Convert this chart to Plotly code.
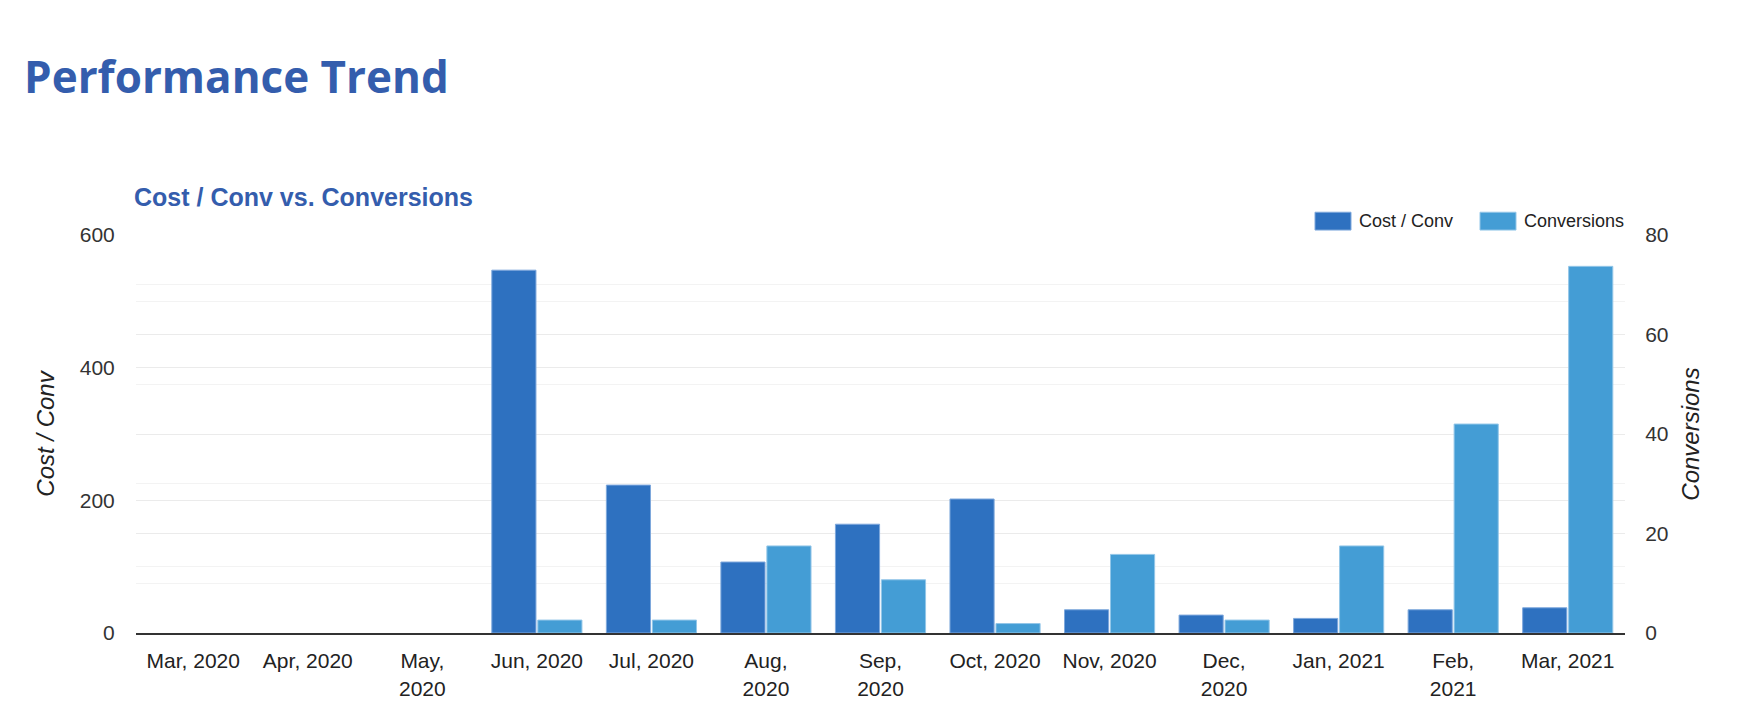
import plotly.graph_objects as go

months = ['Mar, 2020', 'Apr, 2020', 'May,<br>2020', 'Jun, 2020', 'Jul, 2020',
          'Aug,<br>2020', 'Sep,<br>2020', 'Oct, 2020', 'Nov, 2020',
          'Dec,<br>2020', 'Jan, 2021', 'Feb,<br>2021', 'Mar, 2021']
cost_per_conv = [None, None, None, 547, 223, 107, 164, 202, 35, 27, 22, 35, 38]
conversions = [None, None, None, 2.6, 2.6, 17.5, 10.7, 1.9, 15.8, 2.6, 17.5, 42, 73.7]

DARK = '#2e71c0'
LIGHT = '#449dd5'
TITLE_BLUE = '#345dad'
FONT = 'Arial, Liberation Sans, sans-serif'

# plot area in pixels (margins below)
L, R, T, B = 128, 129, 227, 75
W, H = 1746, 704
PW, PH = W - L - R, H - T - B


def px_x(px):
    return (px - L) / PW


def px_y(py):
    return (H - B - py) / PH


fig = go.Figure()
fig.add_trace(go.Bar(x=months, y=cost_per_conv, name='Cost / Conv',
                     marker=dict(color=DARK, line=dict(color='#7ea8dc', width=1)),
                     offsetgroup='a', yaxis='y'))
fig.add_trace(go.Bar(x=months, y=conversions, name='Conversions',
                     marker=dict(color=LIGHT, line=dict(color='#93c6e8', width=1)),
                     offsetgroup='b', yaxis='y2'))

# legend drawn by hand so the swatches are wide rectangles like the original
legend_items = [('Cost / Conv', DARK, '#7ea8dc', 1307), ('Conversions', LIGHT, '#93c6e8', 1472)]
shapes = []
annotations = []
for label, col, edge, x0 in legend_items:
    shapes.append(dict(type='rect', xref='paper', yref='paper',
                       x0=px_x(x0), x1=px_x(x0 + 36), y0=px_y(222), y1=px_y(204),
                       fillcolor=col, line=dict(color=edge, width=1)))
    annotations.append(dict(text=label, xref='paper', yref='paper',
                            x=px_x(x0 + 42), y=px_y(213), xanchor='left', yanchor='middle',
                            showarrow=False, font=dict(family=FONT, size=18, color='#222222')))

annotations += [
    dict(text='<b>Performance Trend</b>', xref='paper', yref='paper',
         x=px_x(14), y=px_y(66), xanchor='left', yanchor='middle',
         showarrow=False, font=dict(family='Open Sans', size=44, color=TITLE_BLUE)),
    dict(text='<b>Cost / Conv vs. Conversions</b>', xref='paper', yref='paper',
         x=px_x(124), y=px_y(189), xanchor='left', yanchor='middle',
         showarrow=False, font=dict(family=FONT, size=25, color=TITLE_BLUE)),
]

fig.update_layout(
    width=W, height=H,
    margin=dict(l=L, r=R, t=T, b=B),
    plot_bgcolor='#FFFFFF',
    paper_bgcolor='#FFFFFF',
    font=dict(family=FONT, size=21, color='#333333'),
    barmode='group',
    bargap=0.197,
    bargroupgap=0.04,
    showlegend=False,
    xaxis=dict(showgrid=False, showline=True, linecolor='#333333', linewidth=2,
               tickfont=dict(size=21, color='#222222'), ticks='outside',
               ticklen=8, tickcolor='rgba(0,0,0,0)', fixedrange=True),
    yaxis=dict(range=[0, 600], dtick=200, showgrid=True, gridcolor='#ebebeb', gridwidth=1,
               minor=dict(dtick=100, showgrid=True, gridcolor='#f3f3f3', gridwidth=1),
               zeroline=False, ticks='outside', ticklen=16, tickcolor='rgba(0,0,0,0)',
               tickfont=dict(size=21, color='#333333'),
               title=dict(text='<i>Cost / Conv</i>', font=dict(size=24, color='#222222'),
                          standoff=18)),
    yaxis2=dict(range=[0, 80], dtick=20, overlaying='y', side='right',
                showgrid=True, gridcolor='#ebebeb', gridwidth=1,
                minor=dict(dtick=10, showgrid=True, gridcolor='#f3f3f3', gridwidth=1),
                zeroline=False, ticks='outside', ticklen=15, tickcolor='rgba(0,0,0,0)',
                tickfont=dict(size=21, color='#333333'),
                title=dict(text='<i>Conversions</i>', font=dict(size=24, color='#222222'),
                           standoff=14)),
    shapes=shapes,
    annotations=annotations,
)

fig.write_html('out.html')
